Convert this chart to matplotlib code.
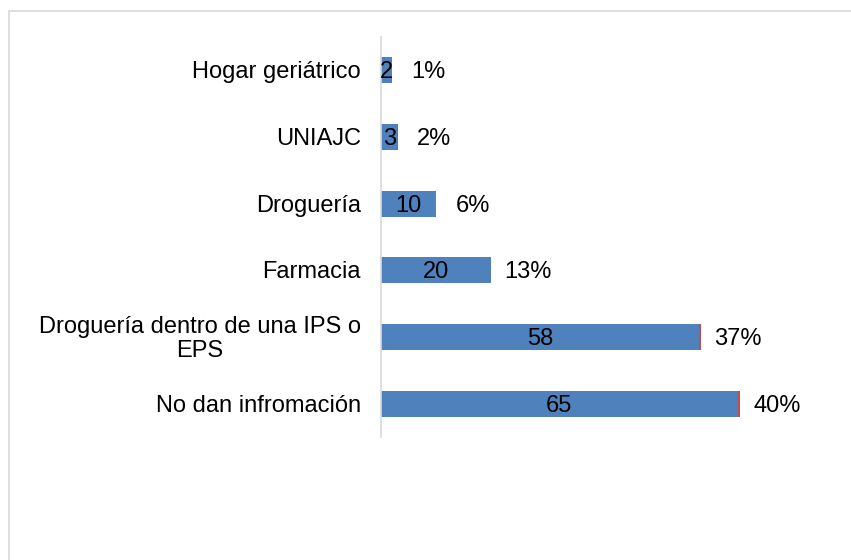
import matplotlib.pyplot as plt
from matplotlib.patches import Rectangle

plt.rcParams['font.family'] = ['Liberation Sans', 'DejaVu Sans']

categorias = ['No dan infromación', 'Droguería dentro de una IPS o\nEPS', 'Farmacia',
              'Droguería', 'UNIAJC', 'Hogar geriátrico']
cantidad = [65, 58, 20, 10, 3, 2]
porcentaje = [0.40, 0.37, 0.13, 0.06, 0.02, 0.01]

azul = '#4F81BD'
rojo = '#C0504D'
fs = 17

fig = plt.figure(figsize=(8.51, 5.60), dpi=100)
ax = fig.add_axes([381 / 851, 123 / 560, 439 / 851, 400 / 560])

pos = range(len(categorias))
ax.barh(pos, cantidad, height=0.39, color=azul)
ax.barh(pos, porcentaje, left=cantidad, height=0.39, color=rojo)

for i, (c, p) in enumerate(zip(cantidad, porcentaje)):
    ax.annotate(str(c), xy=(c / 2, i), xytext=(0, -1.5), textcoords='offset points',
                ha='center', va='center', fontsize=fs, color='black')
    ax.annotate(f'{round(p * 100)}%', xy=(c + p, i), xytext=(26.5, -1.5),
                textcoords='offset points', ha='center', va='center',
                fontsize=fs, color='black')

# category names as plain text so wrapped label stays centred
for i, nom in enumerate(categorias):
    ax.annotate(nom, xy=(0, i), xycoords=('axes fraction', 'data'), xytext=(-14.5, -1.5),
                textcoords='offset points', ha='right', va='center',
                multialignment='center', linespacing=1.15, fontsize=fs, color='black')

ax.set_xlim(0, 80)
ax.set_ylim(-0.5, len(categorias) - 0.5)
ax.set_yticks([])
ax.set_xticks([])
for s in ['top', 'right', 'bottom']:
    ax.spines[s].set_visible(False)
ax.spines['left'].set_color('#D9D9D9')
ax.spines['left'].set_linewidth(1.2)

fig.patches.append(Rectangle((9 / 851, -0.1), 2, (549 / 560) + 0.1, transform=fig.transFigure,
                             fill=False, edgecolor='#D9D9D9', linewidth=1.2))

fig.savefig('out.png', dpi=100)
